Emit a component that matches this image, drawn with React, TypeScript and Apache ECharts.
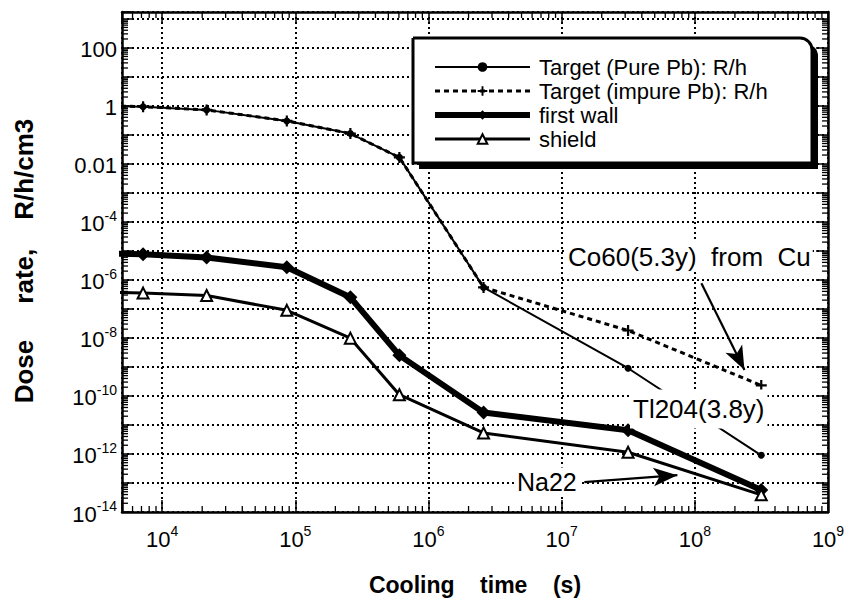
import React, { useEffect, useRef } from 'react';
import * as echarts from 'echarts';

// ---- data ----
const coolingTimes = [3600, 7200, 21600, 86400, 259200, 604800, 2592000, 31536000, 315360000];
const targetPure = [1.0, 0.93, 0.72, 0.3, 0.11, 0.0166, 5.5e-7, 9e-10, 9e-13];
const targetImpure = [1.0, 0.93, 0.72, 0.3, 0.11, 0.0166, 5.5e-7, 1.8e-8, 2.3e-10];
const firstWall = [8.2e-6, 7.6e-6, 5.9e-6, 2.7e-6, 2.5e-7, 2.5e-9, 2.7e-11, 6.6e-12, 5.7e-14];
const shield = [3.8e-7, 3.5e-7, 2.9e-7, 8.9e-8, 9.8e-9, 1.1e-10, 5.3e-12, 1.15e-12, 3.9e-14];

const seriesNames = ['Target (Pure Pb): R/h', 'Target (impure Pb): R/h', 'first wall', 'shield'];

const xRange = [5000, 1e9];
const yRange = [1e-14, 1700];
const xLabelExponents = [4, 5, 6, 7, 8, 9];
const yLabelExponents = [2, 0, -2, -4, -6, -8, -10, -12, -14];
const yDecimalLabels: Record<number, string> = { 2: '100', 0: '1', [-2]: '0.01' };

const xTitle = 'Cooling    time    (s)';
const yTitle = 'Dose     rate,    R/h/cm3';
const co60Text = 'Co60(5.3y)  from  Cu';
const tl204Text = 'Tl204(3.8y)';
const na22Text = 'Na22';
const co60Arrow = [[1.12e8, 7.6e-7], [2.36e8, 7.8e-10]];
const na22Arrow = [[1.48e7, 1.07e-13], [7.4e7, 1.86e-13]];

const FONT = 'Liberation Sans, Arial, Helvetica, sans-serif';
const PLUS = 'path://M4,0H6V4H10V6H6V10H4V6H0V4H4Z';

function pairs(ys: number[]) {
  return coolingTimes.map((t, i) => [t, ys[i]]);
}

// log minor tick positions (axis decoration)
function minorTicks() {
  const out: number[][] = [];
  for (let e = 3; e <= 8; e++) {
    for (let m = 2; m <= 9; m++) {
      const v = m * Math.pow(10, e);
      if (v > xRange[0] && v < xRange[1]) out.push([v, 1, 0]);
    }
  }
  for (let e = -14; e <= 3; e++) {
    for (let m = 2; m <= 9; m++) {
      const v = m * Math.pow(10, e);
      if (v > yRange[0] && v < yRange[1]) out.push([1e4, v, 1]);
    }
  }
  return out;
}

function expOf(v: number) {
  const l = Math.log10(v);
  const e = Math.round(l);
  return Math.abs(l - e) < 0.01 ? e : null;
}

const rich = {
  b: { fontSize: 22, fontFamily: FONT, color: '#000', lineHeight: 26, verticalAlign: 'bottom' },
  s: { fontSize: 14, fontFamily: FONT, color: '#000', lineHeight: 14, verticalAlign: 'top' },
};

export default function App() {
  const ref = useRef<HTMLDivElement>(null);
  useEffect(() => {
    const chart = echarts.init(ref.current!, null, { renderer: 'svg' });
    const axisLine = { show: true, lineStyle: { color: '#000', width: 2.5 } };
    const axisTick = { show: true, inside: true, length: 12, lineStyle: { color: '#000', width: 1.5 } };
    const gridLine = { show: true, lineStyle: { color: '#000', width: 2, type: [2, 3] } };
    const option: any = {
      animation: false,
      backgroundColor: '#fff',
      textStyle: { fontFamily: FONT },
      grid: { left: 122, right: 22, top: 12, bottom: 89, outerBoundsMode: 'none', containLabel: false },
      legend: {
        data: seriesNames,
        orient: 'vertical',
        left: 432,
        top: 55,
        itemWidth: 95,
        itemHeight: 12,
        itemGap: 0,
        padding: 0,
        selectedMode: false,
        z: 10,
        lineStyle: { width: 'inherit' },
        textStyle: { fontSize: 22, lineHeight: 24, fontFamily: FONT, color: '#000', padding: [0, 0, 0, 4] },
      },
      xAxis: [
        {
          type: 'log', logBase: 10, min: xRange[0], max: xRange[1], splitNumber: 5,
          axisLine, axisTick,
          axisLabel: {
            margin: 12, rich,
            formatter: (v: number) => {
              const e = expOf(v);
              if (e === null || !xLabelExponents.includes(e)) return '';
              return `{b|10}{s|${e}}`;
            },
          },
          splitLine: gridLine,
          minorTick: { show: false },
        },
        {
          type: 'log', logBase: 10, min: xRange[0], max: xRange[1], splitNumber: 5, position: 'top',
          axisLine, axisTick, axisLabel: { show: false }, splitLine: { show: false },
        },
      ],
      yAxis: [
        {
          type: 'log', logBase: 10, min: yRange[0], max: yRange[1], interval: 1,
          axisLine, axisTick,
          axisLabel: {
            margin: 5, rich,
            formatter: (v: number) => {
              const e = expOf(v);
              if (e === null || !yLabelExponents.includes(e)) return '';
              if (yDecimalLabels[e]) return `{b|${yDecimalLabels[e]}}`;
              return `{b|10}{s|${e}}`;
            },
          },
          splitLine: gridLine,
        },
        {
          type: 'log', logBase: 10, min: yRange[0], max: yRange[1], interval: 1, position: 'right',
          axisLine, axisTick, axisLabel: { show: false }, splitLine: { show: false },
        },
      ],
      series: [
        {
          name: seriesNames[1], type: 'line', data: pairs(targetImpure),
          symbol: PLUS, symbolSize: 11,
          itemStyle: { color: '#000' },
          lineStyle: { color: '#000', width: 3, type: [5, 4] },
          z: 2,
        },
        {
          name: seriesNames[0], type: 'line', data: pairs(targetPure),
          symbol: 'circle', symbolSize: 7,
          itemStyle: { color: '#000' },
          lineStyle: { color: '#000', width: 2 },
          z: 3,
        },
        {
          name: seriesNames[2], type: 'line', data: pairs(firstWall),
          symbol: 'diamond', symbolSize: 14,
          itemStyle: { color: '#000' },
          lineStyle: { color: '#000', width: 6 },
          z: 3,
        },
        {
          name: seriesNames[3], type: 'line', data: pairs(shield),
          symbol: 'emptyTriangle', symbolSize: 11,
          itemStyle: { color: '#000', borderWidth: 1.8 },
          lineStyle: { color: '#000', width: 3 },
          z: 3,
          markLine: {
            silent: true,
            symbol: ['none', 'arrow'],
            symbolSize: [14, 24],
            lineStyle: { color: '#000', width: 2.2, type: 'solid' },
            itemStyle: { color: '#000' },
            label: { show: false },
            data: [
              [{ coord: co60Arrow[0] }, { coord: co60Arrow[1] }],
              [{ coord: na22Arrow[0] }, { coord: na22Arrow[1] }],
            ],
          },
        },
        {
          type: 'custom', silent: true, clip: false, z: 1,
          encode: { x: 0, y: 1 },
          data: minorTicks(),
          renderItem: (params: any, api: any) => {
            const cs = params.coordSys;
            const kind = api.value(2);
            const p = api.coord([api.value(0), api.value(1)]);
            const L = 6;
            const style = { stroke: '#000', lineWidth: 1.3 };
            if (kind === 0) {
              return {
                type: 'group',
                children: [
                  { type: 'line', shape: { x1: p[0], y1: cs.y + cs.height, x2: p[0], y2: cs.y + cs.height - L }, style },
                  { type: 'line', shape: { x1: p[0], y1: cs.y, x2: p[0], y2: cs.y + L }, style },
                ],
              };
            }
            return {
              type: 'group',
              children: [
                { type: 'line', shape: { x1: cs.x, y1: p[1], x2: cs.x + L, y2: p[1] }, style },
                { type: 'line', shape: { x1: cs.x + cs.width, y1: p[1], x2: cs.x + cs.width - L, y2: p[1] }, style },
              ],
            };
          },
        },
      ],
      graphic: [
        {
          type: 'rect', z: 5, silent: true,
          shape: { x: 419, y: 44, width: 399, height: 125, r: [0, 12, 0, 0] },
          style: { fill: '#000' },
        },
        {
          type: 'rect', z: 6, silent: true,
          shape: { x: 413, y: 38, width: 399, height: 125, r: [0, 12, 0, 0] },
          style: { fill: '#fff', stroke: '#000', lineWidth: 3 },
        },
        {
          type: 'text', z: 7, silent: true, x: 566, y: 257,
          style: {
            text: co60Text, fontSize: 26, fontFamily: FONT, fill: '#000',
            verticalAlign: 'middle', align: 'left', backgroundColor: '#fff', padding: [2, 2, 2, 2],
          },
        },
        {
          type: 'text', z: 7, silent: true, x: 630, y: 409,
          style: {
            text: tl204Text, fontSize: 26, fontFamily: FONT, fill: '#000',
            verticalAlign: 'middle', align: 'left', backgroundColor: '#fff', padding: [7, 3, 6, 3],
          },
        },
        {
          type: 'text', z: 7, silent: true, x: 514, y: 482,
          style: {
            text: na22Text, fontSize: 25, fontFamily: FONT, fill: '#000',
            verticalAlign: 'middle', align: 'left', backgroundColor: '#fff', padding: [2, 3, 2, 3],
          },
        },
        {
          type: 'text', z: 7, silent: true, x: 475, y: 585,
          style: {
            text: xTitle, fontSize: 23, fontWeight: 'bold', fontFamily: FONT, fill: '#000',
            verticalAlign: 'middle', align: 'center',
          },
        },
        {
          type: 'text', z: 7, silent: true, x: 24, y: 261, rotation: Math.PI / 2,
          style: {
            text: yTitle, fontSize: 26, fontWeight: 'bold', fontFamily: FONT, fill: '#000',
            verticalAlign: 'middle', align: 'center',
          },
        },
      ],
    };
    chart.setOption(option);
    return () => chart.dispose();
  }, []);
  return (
    <div
      ref={ref}
      style={{ position: 'absolute', left: 0, top: 0, width: 850, height: 601, background: '#fff' }}
    />
  );
}
